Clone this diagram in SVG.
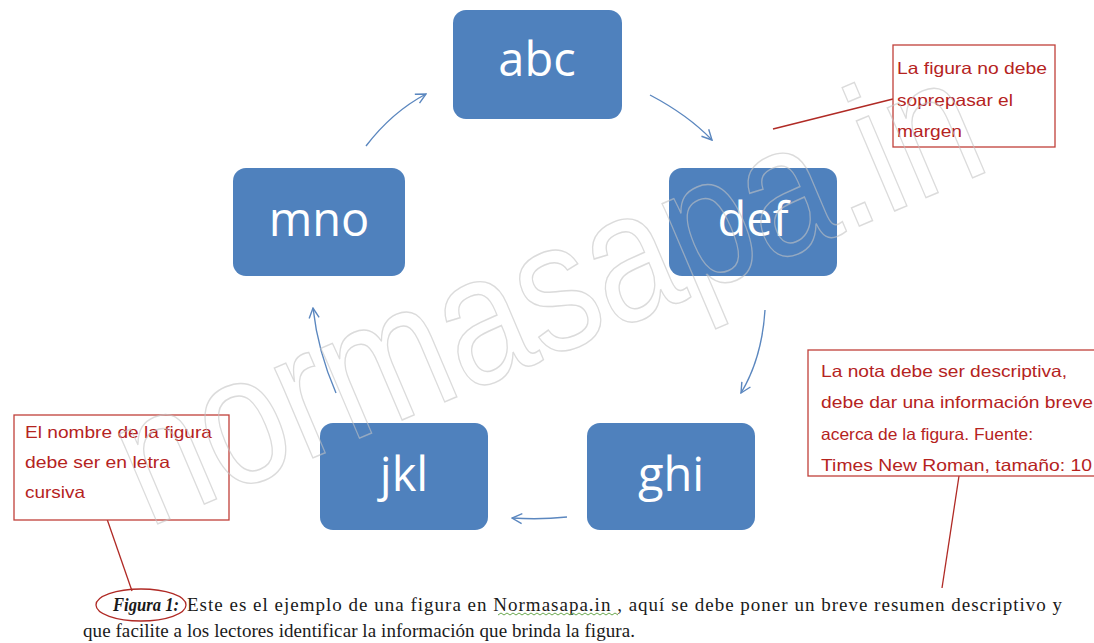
<svg xmlns="http://www.w3.org/2000/svg" width="1094" height="643" viewBox="0 0 1094 643">
<defs>
<style>
.node rect{fill:#4F81BD;}
.node text{fill:#fff;font-family:"Open Sans","Liberation Sans",sans-serif;font-size:47px;text-anchor:middle;}
.conn path{fill:none;stroke:#5B87BF;stroke-width:1.4;}
.note rect{fill:#fff;stroke:#C0403A;stroke-width:1.3;}
.note text{fill:#B5231E;font-family:"Liberation Sans",Arial,sans-serif;font-size:16.5px;}
.lead{stroke:#B02A25;stroke-width:1.3;fill:none;}
.cap{font-family:"Liberation Serif","Times New Roman",serif;font-size:19px;fill:#1a1a1a;}
.wm{font-family:"Liberation Sans",Arial,sans-serif;font-size:185px;fill:none;stroke:#c4c4c4;stroke-width:1.5;opacity:0.6;}
</style>
<marker id="ah" viewBox="0 0 12 12" refX="11" refY="6" markerWidth="12" markerHeight="12" markerUnits="userSpaceOnUse" orient="auto">
<path d="M1,1 L11,6 L1,11" fill="none" stroke="#5B87BF" stroke-width="1.4"/>
</marker>
</defs>
<rect width="1094" height="643" fill="#fff"/>

<g class="conn" id="connectors">
<path d="M366,146 Q392,112 426,94" marker-end="url(#ah)"/>
<path d="M650,95 Q688,115 712,140" marker-end="url(#ah)"/>
<path d="M765,310 Q762,358 741,393" marker-end="url(#ah)"/>
<path d="M567,517 Q540,520 512,518" marker-end="url(#ah)"/>
<path d="M336,393 Q318,352 313,308" marker-end="url(#ah)"/>
</g>

<g class="node" id="abc"><rect x="453" y="10" width="169" height="109" rx="13"/><text x="537" y="76">abc</text></g>
<g class="node" id="def"><rect x="669" y="168" width="168" height="108" rx="13"/><text x="753" y="236">def</text></g>
<g class="node" id="ghi"><rect x="587" y="423" width="168" height="107" rx="13"/><text x="671" y="491">ghi</text></g>
<g class="node" id="jkl"><rect x="320" y="423" width="168" height="107" rx="13"/><text x="404" y="491">jkl</text></g>
<g class="node" id="mno"><rect x="233" y="168" width="172" height="108" rx="13"/><text x="319" y="236">mno</text></g>

<g class="note" id="note-margen">
<line class="lead" x1="773" y1="129" x2="893" y2="99"/>
<rect x="893" y="45" width="162" height="102"/>
<text x="897" y="74" textLength="150" lengthAdjust="spacingAndGlyphs">La figura no debe</text>
<text x="897" y="106" textLength="116" lengthAdjust="spacingAndGlyphs">soprepasar el</text>
<text x="897" y="137" textLength="65" lengthAdjust="spacingAndGlyphs">margen</text>
</g>

<g class="note" id="note-nota">
<line class="lead" x1="959" y1="476" x2="942" y2="588"/>
<rect x="808" y="350" width="300" height="126"/>
<text x="821" y="377" textLength="246" lengthAdjust="spacingAndGlyphs">La nota debe ser descriptiva,</text>
<text x="821" y="408" textLength="272" lengthAdjust="spacingAndGlyphs">debe dar una información breve</text>
<text x="821" y="440" textLength="212" lengthAdjust="spacingAndGlyphs">acerca de la figura. Fuente:</text>
<text x="821" y="471" textLength="271" lengthAdjust="spacingAndGlyphs">Times New Roman, tamaño: 10</text>
</g>

<g class="note" id="note-nombre">
<line class="lead" x1="107" y1="519" x2="132" y2="591"/>
<rect x="14" y="415" width="215" height="105"/>
<text x="25" y="438" textLength="187" lengthAdjust="spacingAndGlyphs">El nombre de la figura</text>
<text x="25" y="468" textLength="145" lengthAdjust="spacingAndGlyphs">debe ser en letra</text>
<text x="25" y="498" textLength="60" lengthAdjust="spacingAndGlyphs">cursiva</text>
</g>

<g id="caption">
<ellipse class="lead" cx="141" cy="605" rx="45" ry="16"/>
<text class="cap" x="113" y="611" font-weight="bold" font-style="italic" textLength="66" lengthAdjust="spacingAndGlyphs">Figura 1:</text>
<text class="cap" x="187" y="611" textLength="875">Este es el ejemplo de una figura en Normasapa.in , aquí se debe poner un breve resumen descriptivo y</text>
<polyline points="498,615 501,613 504,615 507,613 510,615 513,613 516,615 519,613 522,615 525,613 528,615 531,613 534,615 537,613 540,615 543,613 546,615 549,613 552,615 555,613 558,615 561,613 564,615 567,613 570,615 573,613 576,615 579,613 582,615 585,613 588,615 591,613 594,615 597,613 600,615 603,613 606,615 609,613 612,615 615,613 618,615" fill="none" stroke="#6aa84f" stroke-width="1"/>
<text class="cap" x="83" y="637" textLength="552">que facilite a los lectores identificar la información que brinda la figura.</text>
</g>

<text class="wm" transform="translate(148,528) rotate(-23) scale(0.82,1)">normasapa.in</text>
</svg>
